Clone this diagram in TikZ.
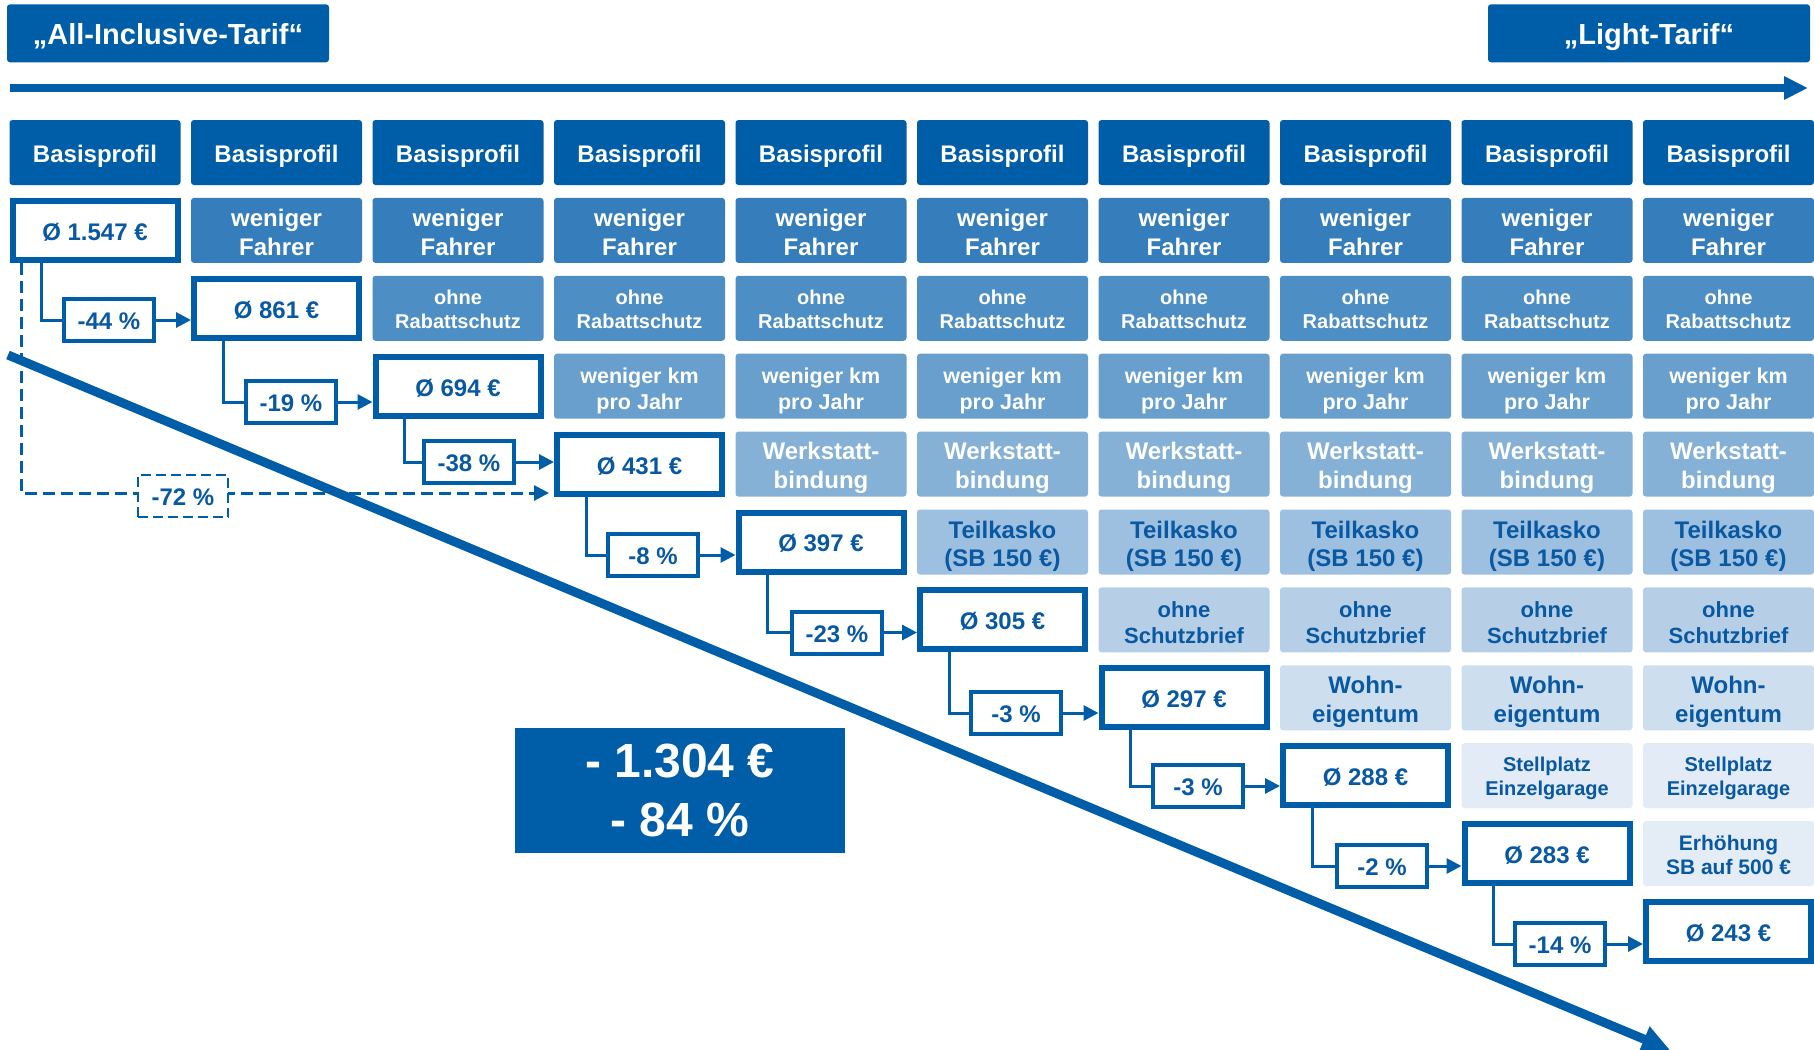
\documentclass[tikz,border=0pt]{standalone}
\usepackage{fontspec}
\setmainfont{Liberation Sans}
\usetikzlibrary{arrows.meta,calc}
\definecolor{mainblue}{RGB}{0,93,168}
\definecolor{txtblue}{RGB}{8,88,162}
\definecolor{cA}{RGB}{54,125,187}
\definecolor{cB}{RGB}{77,142,196}
\definecolor{cC}{RGB}{104,159,205}
\definecolor{cD}{RGB}{133,177,215}
\definecolor{cE}{RGB}{158,192,224}
\definecolor{cF}{RGB}{182,207,230}
\definecolor{cG}{RGB}{205,222,239}
\definecolor{cH}{RGB}{226,235,246}
\definecolor{cI}{RGB}{228,236,246}
\newcommand\myfs[2]{\fontsize{#1pt}{#2pt}\selectfont\bfseries}
\begin{document}
\begin{tikzpicture}[x=0.5pt,y=-0.5pt,
  cellbase/.style={rectangle, rounded corners=1.5pt, minimum width=85.5pt, minimum height=32.5pt, inner sep=0pt},
  basis/.style={cellbase, fill=mainblue, text=white, font=\myfs{12}{14}, text height=9.9pt, text depth=0pt},
  rowA/.style={cellbase, fill=cA},
  rowB/.style={cellbase, fill=cB},
  rowC/.style={cellbase, fill=cC},
  rowD/.style={cellbase, fill=cD},
  rowE/.style={cellbase, fill=cE},
  rowF/.style={cellbase, fill=cF},
  rowG/.style={cellbase, fill=cG},
  rowH/.style={cellbase, fill=cH},
  rowI/.style={cellbase, fill=cI},
  txtbase/.style={inner sep=0pt, align=center},
  tA/.style={txtbase, text=white, font=\myfs{12}{14.4}, yshift=-0.9pt},
  tB/.style={txtbase, text=white, font=\myfs{10}{12}, yshift=-0.6pt},
  tC/.style={txtbase, text=white, font=\myfs{10.75}{13}, yshift=-2.2pt},
  tD/.style={txtbase, text=white, font=\myfs{12}{14.5}, yshift=-1.7pt},
  tE/.style={txtbase, text=txtblue, font=\myfs{12}{14}, yshift=-1.9pt},
  tF/.style={txtbase, text=txtblue, font=\myfs{11}{13}, yshift=-1.2pt},
  tG/.style={txtbase, text=txtblue, font=\myfs{12}{14.3}, yshift=-1.9pt},
  tH/.style={txtbase, text=txtblue, font=\myfs{10}{12.25}, yshift=-1.4pt},
  tI/.style={txtbase, text=txtblue, font=\myfs{10.5}{12.25}, yshift=-0.6pt},
  price/.style={rectangle, draw=mainblue, line width=3pt, fill=white, minimum width=82.5pt, minimum height=29.5pt, inner sep=0pt, text=txtblue, font=\myfs{12}{14}, text height=9.9pt, text depth=0pt},
  pct/.style={rectangle, draw=mainblue, line width=2pt, fill=white, minimum width=45pt, minimum height=21pt, inner sep=0pt, text=txtblue, font=\myfs{12}{14}, text height=9.9pt, text depth=0pt},
  pctdash/.style={rectangle, draw=mainblue, line width=1pt, dash pattern=on 5pt off 2.5pt, fill=white, minimum width=45.3pt, minimum height=21pt, inner sep=0pt, text=txtblue, font=\myfs{12}{14}, text height=9.9pt, text depth=0pt},
  conn/.style={draw=mainblue, line width=1.5pt},
  tip/.style={-{Triangle[length=7.5pt,width=7.5pt]}},
  dashline/.style={draw=mainblue, line width=1.5pt, dash pattern=on 6pt off 3pt},
  title/.style={rectangle, rounded corners=1.5pt, fill=mainblue, text=white, minimum width=161pt, minimum height=29pt, inner sep=0pt, font=\myfs{14.5}{17}, text height=11.3pt, text depth=0pt},
  bigbox/.style={rectangle, fill=mainblue, text=white, minimum width=165pt, minimum height=62.5pt, inner sep=0pt, align=center, font=\myfs{24}{29.5}}
]
\useasboundingbox (0,0) rectangle (1814,1049);
\clip (0,0) rectangle (1814,1049);

% titles
\node[title] (t1) at (168,33.3) {„All-Inclusive-Tarif“};
\node[title] (t2) at (1649,33.3) {„Light-Tarif“};
\coordinate (ta) at (9.6,88);
\coordinate (tb) at (1808,88);
\draw[mainblue, line width=4pt, -{Triangle[length=12pt,width=11pt]}] (ta) -- (tb);

% header row
\foreach \c in {0,...,9} \node[basis] (b\c) at ({95+181.5*\c},152.5) {Basisprofil};

% feature rows (cell, then its text)
\foreach \c in {1,...,9} {\node[rowA] (fA\c) at ({95+181.5*\c},{152.5+77.9*1}) {};
  \node[tA] (xA\c) at (fA\c.center) {weniger\\Fahrer};}
\foreach \c in {2,...,9} {\node[rowB] (fB\c) at ({95+181.5*\c},{152.5+77.9*2}) {};
  \node[tB] (xB\c) at (fB\c.center) {ohne\\Rabattschutz};}
\foreach \c in {3,...,9} {\node[rowC] (fC\c) at ({95+181.5*\c},{152.5+77.9*3}) {};
  \node[tC] (xC\c) at (fC\c.center) {weniger km\\pro Jahr};}
\foreach \c in {4,...,9} {\node[rowD] (fD\c) at ({95+181.5*\c},{152.5+77.9*4}) {};
  \node[tD] (xD\c) at (fD\c.center) {Werkstatt-\\bindung};}
\foreach \c in {5,...,9} {\node[rowE] (fE\c) at ({95+181.5*\c},{152.5+77.9*5}) {};
  \node[tE] (xE\c) at (fE\c.center) {Teilkasko\\(SB 150 €)};}
\foreach \c in {6,...,9} {\node[rowF] (fF\c) at ({95+181.5*\c},{152.5+77.9*6}) {};
  \node[tF] (xF\c) at (fF\c.center) {ohne\\Schutzbrief};}
\foreach \c in {7,...,9} {\node[rowG] (fG\c) at ({95+181.5*\c},{152.5+77.9*7}) {};
  \node[tG] (xG\c) at (fG\c.center) {Wohn-\\eigentum};}
\foreach \c in {8,...,9} {\node[rowH] (fH\c) at ({95+181.5*\c},{152.5+77.9*8}) {};
  \node[tH] (xH\c) at (fH\c.center) {Stellplatz\\Einzelgarage};}
\node[rowI] (fI9) at ({95+181.5*9},{152.5+77.9*9}) {};
\node[tI] (xI9) at (fI9.center) {Erhöhung\\SB auf 500 €};

% price boxes
\foreach \c/\val in {0/1.547,1/861,2/694,3/431,4/397,5/305,6/297,7/288,8/283,9/243}
  \node[price] (p\c) at ({95+181.5*\c},{152.5+77.9*(\c+1)}) {Ø \val{} €};

% percentage steps
\foreach \c/\x/\y/\val in {0/109/320/44,1/291/402/19,2/469/462/38,3/653/555/8,4/837/632.5/23,5/1016/713/3,6/1198/786/3,7/1382/866/2,8/1560/944/14}{
  \node[pct] (d\c) at (\x,\y) {-\val{} \%};
  \pgfmathtruncatemacro\nxt{\c+1}
  \draw[conn] ($(p\c.south west)+(32,0)$) |- (d\c.west);
  \draw[conn,tip] (d\c.east) -- (d\c.east -| p\nxt.west);
}

% dashed overall step
\coordinate (dk) at ($(p0.south west)+(12,0)$);
\coordinate (dy) at (0,493);
\draw[dashline,tip] (dk) |- ($(p3.west |- dy)+(-5,0)$);
\node[pctdash] (d72) at (183,496) {-72 \%};

% result box
\node[bigbox] (res) at (680,790.5) {- 1.304 €\\- 84 \%};

% diagonal arrow
\coordinate (da) at (8,355);
\coordinate (db) at (1670,1050);
\draw[mainblue, line width=4.5pt, -{Triangle[length=14pt,width=13pt]}] (da) -- (db);
\end{tikzpicture}
\end{document}
